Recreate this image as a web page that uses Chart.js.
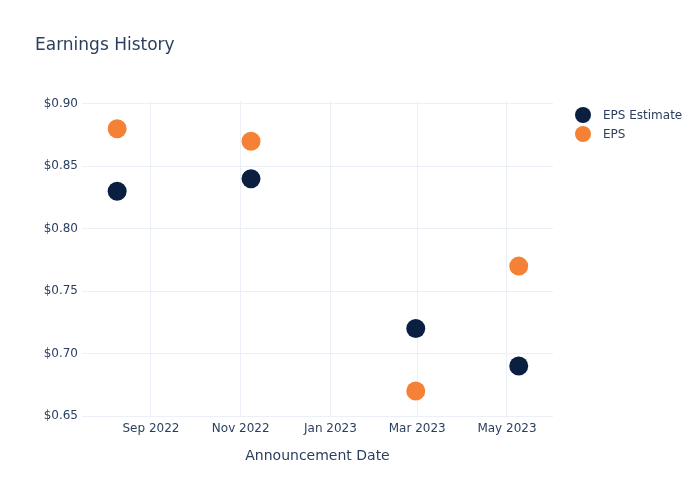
<!DOCTYPE html>
<html>
<head>
<meta charset="utf-8">
<script src="https://cdn.jsdelivr.net/npm/chart.js@4"></script>
<style>
  html, body { margin: 0; padding: 0; background: #fff; }
  #wrap { position: relative; width: 700px; height: 500px; font-family: "DejaVu Sans", sans-serif; color: #2a3f5f; }
  #title { position: absolute; left: 35px; top: 34px; font-size: 17px; white-space: nowrap; }
  #legend { position: absolute; left: 575px; top: 105px; font-size: 12px; }
  .item { display: flex; align-items: center; height: 19px; }
  .dot { width: 16px; height: 16px; border-radius: 50%; margin-right: 12px; }
</style>
</head>
<body>
<div id="wrap">
  <canvas id="c" width="700" height="500"></canvas>
  <div id="title">Earnings History</div>
  <div id="legend"></div>
</div>
<script>
const announceDates = ["2022-08-09", "2022-11-08", "2023-02-28", "2023-05-09"];
const epsEstimate = [0.83, 0.84, 0.72, 0.69];
const epsActual = [0.88, 0.87, 0.67, 0.77];
const xTickDates = ["2022-09-01", "2022-11-01", "2023-01-01", "2023-03-01", "2023-05-01"];
const xTickLabels = ["Sep 2022", "Nov 2022", "Jan 2023", "Mar 2023", "May 2023"];
const yTicks = [0.65, 0.70, 0.75, 0.80, 0.85, 0.90];
const seriesNames = ["EPS Estimate", "EPS"];
const seriesColors = ["#0b1f41", "#f58137"];

const toDay = s => Date.parse(s + "T00:00:00Z") / 86400000;
const xMin = toDay("2022-07-16") + 0.1;
const xMax = toDay("2023-06-01") + 0.3;

const legend = document.getElementById('legend');
seriesNames.forEach((n, i) => {
  const d = document.createElement('div');
  d.className = 'item';
  d.innerHTML = '<span class="dot" style="background:' + seriesColors[i] + '"></span><span>' + n + '</span>';
  legend.appendChild(d);
});

const grid = '#ebf0f8';
new Chart(document.getElementById('c'), {
  type: 'scatter',
  data: {
    datasets: [
      { label: seriesNames[0], data: announceDates.map((d, i) => ({ x: toDay(d), y: epsEstimate[i] })),
        backgroundColor: seriesColors[0], borderWidth: 0, pointRadius: 9.5, pointHoverRadius: 9.5 },
      { label: seriesNames[1], data: announceDates.map((d, i) => ({ x: toDay(d), y: epsActual[i] })),
        backgroundColor: seriesColors[1], borderWidth: 0, pointRadius: 9.5, pointHoverRadius: 9.5 }
    ]
  },
  options: {
    responsive: false,
    animation: false,
    layout: { padding: { left: 0, right: 147, top: 101, bottom: 0 } },
    plugins: { legend: { display: false }, tooltip: { enabled: false } },
    scales: {
      x: {
        type: 'linear', min: xMin, max: xMax,
        afterBuildTicks: s => { s.ticks = xTickDates.map(d => ({ value: toDay(d) })); },
        afterFit: s => { s.height = 84; },
        grid: { color: grid, drawTicks: false },
        border: { display: false },
        ticks: {
          padding: 6, color: '#2a3f5f', font: { family: 'DejaVu Sans', size: 12 },
          maxRotation: 0, autoSkip: false,
          callback: (v) => { const i = xTickDates.findIndex(d => toDay(d) === v); return i >= 0 ? xTickLabels[i] : ''; }
        },
        title: { display: true, text: 'Announcement Date', color: '#2a3f5f',
          font: { family: 'DejaVu Sans', size: 14 }, padding: { top: 0, bottom: 35 } }
      },
      y: {
        type: 'linear', min: 0.65, max: 0.9022,
        afterBuildTicks: s => { s.ticks = yTicks.map(v => ({ value: v })); },
        afterFit: s => { s.width = 82; },
        grid: { color: grid, drawTicks: false },
        border: { display: false },
        ticks: {
          padding: 4, color: '#2a3f5f', font: { family: 'DejaVu Sans', size: 12 },
          callback: v => '$' + Number(v).toFixed(2)
        }
      }
    }
  }
});
</script>
</body>
</html>
